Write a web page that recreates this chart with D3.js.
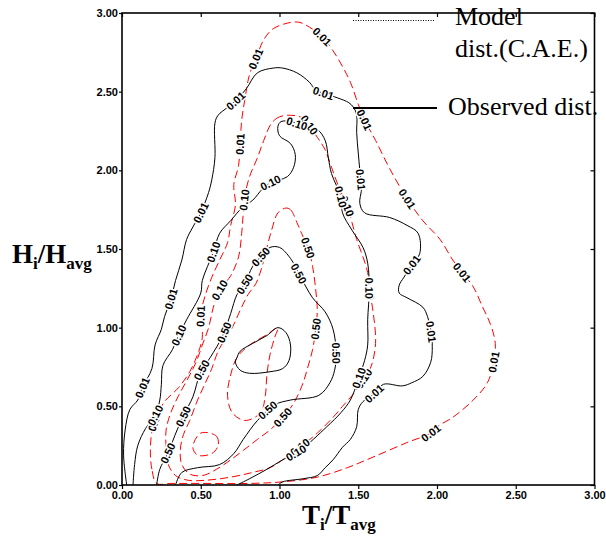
<!DOCTYPE html>
<html>
<head>
<meta charset="UTF-8" />
<title>contour H/T</title>
<script src="https://d3js.org/d3.v7.min.js"></script>
<style>
  body{margin:0;background:#fff;}
  .tick text{font-family:"Liberation Sans",Arial,sans-serif;font-weight:bold;font-size:11px;fill:#000;}
  .clabel{font-family:"Liberation Sans",Arial,sans-serif;font-weight:bold;font-size:11px;fill:#000;stroke:#fff;stroke-width:3px;paint-order:stroke;}
  .title{font-family:"Liberation Serif","Times New Roman",serif;font-weight:bold;font-size:27px;}
  .legend{font-family:"Liberation Serif","Times New Roman",serif;font-size:26px;}
</style>
</head>
<body>
<svg id="chart" width="606" height="539"></svg>
<script>
// axis ticks
var ticks = [0, 0.5, 1, 1.5, 2, 2.5, 3]

// observed distribution (black, solid)  [T/Tavg, H/Havg]
var obs001 = [[0.03,0.00],[0.01,0.19],[0.02,0.35],[0.05,0.48],[0.10,0.54],[0.13,0.62],[0.19,0.74],[0.21,0.89],[0.25,0.99],[0.27,1.07],[0.31,1.18],[0.34,1.30],[0.38,1.43],[0.41,1.56],[0.45,1.64],[0.50,1.73],[0.55,1.86],[0.57,1.94],[0.59,2.08],[0.59,2.30],[0.61,2.35],[0.67,2.40],[0.73,2.45],[0.79,2.52],[0.86,2.62],[0.96,2.65],[1.02,2.65],[1.11,2.62],[1.19,2.56],[1.23,2.51],[1.28,2.49],[1.37,2.46],[1.44,2.43],[1.47,2.40],[1.49,2.35],[1.49,2.24],[1.50,2.11],[1.51,2.00],[1.52,1.88],[1.51,1.79],[1.54,1.73],[1.70,1.70],[1.81,1.65],[1.88,1.60],[1.89,1.47],[1.84,1.40],[1.79,1.32],[1.76,1.27],[1.76,1.22],[1.81,1.19],[1.91,1.13],[1.94,1.07],[1.96,0.99],[1.97,0.88],[1.96,0.78],[1.91,0.69],[1.84,0.65],[1.78,0.63],[1.66,0.64],[1.60,0.58],[1.53,0.53],[1.50,0.48],[1.49,0.37],[1.45,0.29],[1.40,0.24],[1.34,0.16],[1.29,0.11],[1.24,0.06],[1.15,0.04],[1.02,0.02],[0.99,0.00]]
var obs010 = [[0.07,0.00],[0.08,0.13],[0.10,0.25],[0.15,0.36],[0.21,0.44],[0.24,0.54],[0.25,0.64],[0.26,0.76],[0.32,0.86],[0.36,0.95],[0.41,1.05],[0.50,1.22],[0.51,1.30],[0.58,1.48],[0.62,1.60],[0.69,1.68],[0.77,1.77],[0.83,1.81],[0.89,1.88],[0.94,1.92],[1.05,1.96],[1.09,2.02],[1.10,2.10],[1.07,2.17],[1.00,2.22],[0.99,2.28],[1.01,2.31],[1.07,2.31],[1.13,2.29],[1.24,2.26],[1.29,2.19],[1.31,2.08],[1.33,1.98],[1.39,1.83],[1.40,1.73],[1.46,1.62],[1.53,1.51],[1.56,1.41],[1.57,1.24],[1.56,1.05],[1.56,0.89],[1.54,0.79],[1.50,0.67],[1.45,0.54],[1.39,0.46],[1.30,0.37],[1.13,0.22],[1.02,0.16],[0.92,0.10],[0.81,0.04],[0.73,0.00]]
var obs050 = [[0.22,0.00],[0.24,0.10],[0.29,0.20],[0.35,0.35],[0.40,0.46],[0.45,0.56],[0.50,0.72],[0.56,0.81],[0.64,0.95],[0.69,1.09],[0.73,1.21],[0.78,1.28],[0.83,1.39],[0.89,1.46],[0.94,1.51],[1.00,1.51],[1.07,1.44],[1.13,1.33],[1.21,1.19],[1.29,1.10],[1.34,0.99],[1.36,0.84],[1.35,0.73],[1.32,0.65],[1.25,0.57],[1.07,0.54],[0.97,0.51],[0.86,0.41],[0.77,0.29],[0.71,0.20],[0.62,0.13],[0.48,0.11],[0.38,0.08],[0.34,0.00]]
var obsPeak = [[0.73,0.81],[0.75,0.85],[0.83,0.90],[0.92,0.95],[0.99,1.00],[1.04,0.97],[1.07,0.89],[1.06,0.79],[1.02,0.74],[0.94,0.72],[0.81,0.71],[0.75,0.73],[0.72,0.78]]

// model distribution (red, dashed)
var mod001 = [[0.22,0.01],[0.19,0.10],[0.18,0.21],[0.19,0.34],[0.22,0.44],[0.27,0.53],[0.36,0.62],[0.43,0.72],[0.48,0.83],[0.51,0.94],[0.50,1.08],[0.53,1.21],[0.57,1.32],[0.62,1.43],[0.67,1.54],[0.69,1.65],[0.72,1.78],[0.71,1.91],[0.74,2.03],[0.75,2.17],[0.76,2.32],[0.78,2.45],[0.81,2.61],[0.85,2.71],[0.90,2.83],[0.96,2.90],[1.07,2.94],[1.13,2.94],[1.19,2.91],[1.27,2.85],[1.34,2.76],[1.40,2.66],[1.45,2.56],[1.50,2.42],[1.54,2.32],[1.61,2.19],[1.70,2.01],[1.81,1.82],[1.91,1.68],[2.02,1.56],[2.10,1.43],[2.16,1.35],[2.23,1.26],[2.29,1.13],[2.34,1.02],[2.37,0.90],[2.36,0.78],[2.32,0.65],[2.23,0.54],[2.10,0.43],[2.00,0.37],[1.96,0.33],[1.81,0.27],[1.60,0.18],[1.43,0.11],[1.24,0.05],[1.02,0.02],[0.81,0.01],[0.50,0.01],[0.31,0.01]]
var mod010 = [[1.07,2.35],[1.00,2.34],[0.95,2.30],[0.90,2.19],[0.86,2.08],[0.81,1.96],[0.78,1.84],[0.77,1.73],[0.76,1.60],[0.74,1.45],[0.69,1.33],[0.62,1.24],[0.58,1.13],[0.55,1.00],[0.51,0.89],[0.47,0.78],[0.42,0.68],[0.36,0.57],[0.31,0.46],[0.28,0.35],[0.28,0.24],[0.29,0.14],[0.34,0.06],[0.42,0.03],[0.53,0.03],[0.69,0.05],[0.83,0.08],[0.94,0.11],[1.02,0.16],[1.13,0.24],[1.24,0.33],[1.34,0.43],[1.40,0.50],[1.47,0.58],[1.53,0.67],[1.58,0.75],[1.61,0.90],[1.59,1.13],[1.57,1.24],[1.56,1.35],[1.53,1.45],[1.49,1.56],[1.46,1.67],[1.43,1.77],[1.37,1.91],[1.33,2.02],[1.29,2.13],[1.24,2.21],[1.15,2.33]]
var mod050 = [[1.04,1.76],[1.07,1.75],[1.11,1.67],[1.14,1.60],[1.18,1.51],[1.21,1.39],[1.23,1.24],[1.24,1.11],[1.23,0.99],[1.21,0.86],[1.18,0.75],[1.15,0.65],[1.09,0.52],[1.02,0.43],[0.94,0.35],[0.86,0.29],[0.77,0.22],[0.69,0.16],[0.60,0.10],[0.51,0.06],[0.43,0.07],[0.38,0.13],[0.37,0.22],[0.39,0.32],[0.43,0.41],[0.48,0.54],[0.53,0.65],[0.57,0.74],[0.61,0.85],[0.65,0.92],[0.70,1.00],[0.75,1.11],[0.80,1.21],[0.85,1.28],[0.89,1.39],[0.92,1.51],[0.95,1.62],[0.99,1.73]]
var modInnerA = [[0.99,1.00],[0.91,0.95],[0.81,0.89],[0.73,0.81],[0.69,0.70],[0.67,0.57],[0.70,0.46],[0.78,0.41],[0.88,0.46],[0.91,0.57],[0.92,0.70],[0.94,0.83],[0.97,0.94]]
var modInnerB = [[0.50,0.33],[0.60,0.31],[0.61,0.25],[0.57,0.20],[0.48,0.19],[0.45,0.24]]

// contour label positions
var obsLab001 = [[0.73,2.43],[1.28,2.49],[1.49,1.94],[1.84,1.40],[1.96,0.97],[1.60,0.58],[0.50,1.73],[0.31,1.18],[0.13,0.62]]
var obsLab010 = [[0.94,1.92],[0.58,1.48],[0.36,0.95],[0.21,0.44],[1.11,2.29],[1.39,1.83],[1.56,1.25],[1.50,0.68],[1.10,0.21]]
var obsLab050 = [[0.78,1.28],[0.88,1.45],[1.14,1.35],[1.36,0.84],[0.92,0.48],[0.65,0.97],[0.50,0.73],[0.45,0.41],[0.29,0.20]]
var modLab001 = [[0.85,2.71],[0.75,2.17],[1.27,2.85],[1.54,2.32],[1.81,1.82],[2.16,1.35],[2.36,0.78],[1.96,0.33],[0.50,1.07],[0.20,0.41]]
var modLab010 = [[0.79,1.81],[0.62,1.24],[1.43,1.77],[1.16,2.27],[1.58,1.24],[1.53,0.68],[1.13,0.24]]
var modLab050 = [[1.18,1.51],[1.23,0.99],[1.02,0.43]]

// window
var svg = d3.select("#chart")
var x = d3.scaleLinear().domain([0, 3]).range([122, 594.5])
var y = d3.scaleLinear().domain([0, 3]).range([485, 13])

var lineOpen = d3.line().x(d=>x(d[0])).y(d=>y(d[1])).curve(d3.curveCatmullRom.alpha(0.5))
var lineClosed = d3.line().x(d=>x(d[0])).y(d=>y(d[1])).curve(d3.curveCatmullRomClosed.alpha(0.5))

var gLines = svg.append("g")
var gLabels = svg.append("g")

function drawContour(pts, closed, red){
	var p = gLines.append("path")
		.attr("d", closed ? lineClosed(pts) : lineOpen(pts))
		.attr("fill", "none")
		.attr("stroke", red ? "#f00" : "#000")
		.attr("stroke-width", 1)
	if (red) p.attr("stroke-dasharray", "8,4")
	return p.node()
}

// put labels on the nearest point of the drawn path, rotated along it
function putLabels(node, labels, txt){
	var L = node.getTotalLength()
	var samples = d3.range(0, L, 1).map(l=>node.getPointAtLength(l))
	labels.forEach(p=>{
		var px = x(p[0]), py = y(p[1])
		var best = 0, bd = Infinity
		samples.forEach((s,i)=>{
			var d = (s.x-px)*(s.x-px) + (s.y-py)*(s.y-py)
			if (d < bd){ bd = d; best = i }
		})
		var a = samples[Math.max(0, best-6)], b = samples[Math.min(samples.length-1, best+6)]
		var ang = Math.atan2(b.y-a.y, b.x-a.x)*180/Math.PI
		if (ang > 90) ang -= 180
		if (ang < -90) ang += 180
		var s = samples[best]
		gLabels.append("text")
			.attr("class", "clabel")
			.attr("text-anchor", "middle")
			.attr("dy", "0.36em")
			.attr("transform", "translate("+s.x+","+s.y+") rotate("+ang+")")
			.text(txt)
	})
}

var nM001 = drawContour(mod001, true, true)
var nM010 = drawContour(mod010, true, true)
var nM050 = drawContour(mod050, true, true)
drawContour(modInnerA, true, true)
drawContour(modInnerB, true, true)
var nO001 = drawContour(obs001, false, false)
var nO010 = drawContour(obs010, false, false)
var nO050 = drawContour(obs050, false, false)
drawContour(obsPeak, true, false)

putLabels(nM001, modLab001, "0.01")
putLabels(nM010, modLab010, "0.10")
putLabels(nM050, modLab050, "0.50")
putLabels(nO001, obsLab001, "0.01")
putLabels(nO010, obsLab010, "0.10")
putLabels(nO050, obsLab050, "0.50")

// axes
var fmt = d3.format(".2f")
var gx = svg.append("g").attr("transform", "translate(0,"+y(0)+")")
	.call(d3.axisBottom(x).tickValues(ticks).tickFormat(fmt).tickSize(4).tickPadding(2))
var gy = svg.append("g").attr("transform", "translate("+x(0)+",0)")
	.call(d3.axisLeft(y).tickValues(ticks).tickFormat(fmt).tickSize(3).tickPadding(1))
var gt = svg.append("g").attr("transform", "translate(0,"+y(3)+")")
	.call(d3.axisTop(x).tickValues(ticks).tickFormat("").tickSize(-4))
var gr = svg.append("g").attr("transform", "translate("+x(3)+",0)")
	.call(d3.axisRight(y).tickValues(ticks).tickFormat("").tickSize(-4))
;[gx, gy, gt, gr].forEach(g=>{
	g.select(".domain").remove()
	g.selectAll(".tick line").attr("stroke", "#000").attr("stroke-width", 1.2)
})
svg.append("rect")
	.attr("x", x(0)).attr("y", y(3))
	.attr("width", x(3)-x(0)).attr("height", y(0)-y(3))
	.attr("fill", "none").attr("stroke", "#000").attr("stroke-width", 1.6)

// axis titles
var ty = svg.append("text").attr("class", "title").attr("x", 12).attr("y", 263)
ty.append("tspan").text("H")
ty.append("tspan").attr("font-size", 17).attr("dy", 6).text("i")
ty.append("tspan").attr("dy", -6).text("/H")
ty.append("tspan").attr("font-size", 17).attr("dy", 6).text("avg")

var tx = svg.append("text").attr("class", "title").attr("x", 302).attr("y", 524)
tx.append("tspan").text("T")
tx.append("tspan").attr("font-size", 17).attr("dy", 6).text("i")
tx.append("tspan").attr("dy", -6).text("/T")
tx.append("tspan").attr("font-size", 17).attr("dy", 6).text("avg")

// legend
svg.append("line").attr("x1", 353).attr("x2", 435).attr("y1", 20.5).attr("y2", 20.5)
	.attr("stroke", "#000").attr("stroke-width", 1).attr("stroke-dasharray", "1,1.5")
svg.append("text").attr("class", "legend").attr("x", 455).attr("y", 25).text("Model")
svg.append("text").attr("class", "legend").attr("x", 455).attr("y", 57).text("dist.(C.A.E.)")
svg.append("line").attr("x1", 353).attr("x2", 437).attr("y1", 108).attr("y2", 108)
	.attr("stroke", "#000").attr("stroke-width", 2)
svg.append("text").attr("class", "legend").attr("x", 448).attr("y", 115).text("Observed dist.")
</script>
</body>
</html>
